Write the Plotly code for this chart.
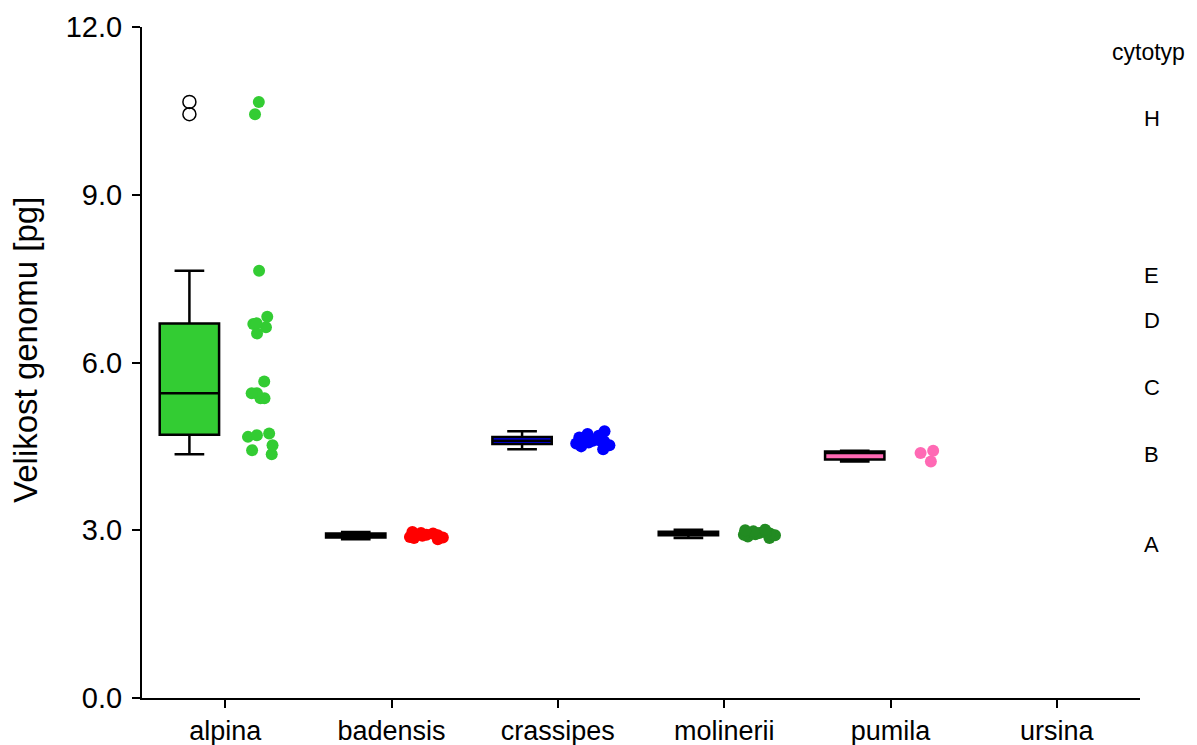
import plotly.graph_objects as go

# ---- data ----
species = ["alpina", "badensis", "crassipes", "molinerii", "pumila", "ursina"]
colors = ["#33CC33", "#FF0000", "#0000FF", "#228B22", "#FF69B4", "#888888"]

alpina = [4.36, 4.43, 4.52, 4.67, 4.70, 4.73, 5.36, 5.36, 5.45, 5.45, 5.66,
          6.52, 6.63, 6.69, 6.70, 6.82, 7.64, 10.44, 10.66]
badensis = [2.84, 2.86, 2.87, 2.88, 2.90, 2.91, 2.92, 2.94, 2.95, 2.97]
crassipes = [4.45, 4.50, 4.52, 4.55, 4.57, 4.59, 4.60, 4.61, 4.63, 4.66, 4.69, 4.72, 4.77]
molinerii = [2.86, 2.89, 2.91, 2.92, 2.93, 2.94, 2.95, 2.96, 2.98, 3.00, 3.01]
pumila = [4.23, 4.38, 4.42]
ursina = []

values = [alpina, badensis, crassipes, molinerii, pumila, ursina]

cytotypes = ["H", "E", "D", "C", "B", "A"]
cytotype_levels = [10.37, 7.56, 6.76, 5.56, 4.36, 2.74]

ytick_vals = [0, 3, 6, 9, 12]

# ---- styling ----
FONT = "Liberation Sans, Arial, sans-serif"
jitter_amount = {"pumila": 0.3}
DEFAULT_JITTER = 0.7

fig = go.Figure()

for name, vals, col in zip(species, values, colors):
    if not vals:
        continue
    # visible box with outliers as open circles
    fig.add_trace(go.Box(
        x=[name] * len(vals), y=vals, name=name,
        offsetgroup="box", alignmentgroup="g",
        fillcolor=col, line=dict(color="black", width=2.5),
        whiskerwidth=0.5, boxpoints="outliers",
        marker=dict(symbol="circle-open", size=13, color="black",
                    line=dict(width=1.5, color="black")),
        showlegend=False,
    ))
    # scatter of all individual values (box hidden)
    fig.add_trace(go.Box(
        x=[name] * len(vals), y=vals, name=name,
        offsetgroup="pts", alignmentgroup="g",
        fillcolor="rgba(0,0,0,0)", line=dict(color="rgba(0,0,0,0)", width=0),
        whiskerwidth=0, boxpoints="all",
        jitter=jitter_amount.get(name, DEFAULT_JITTER), pointpos=0,
        marker=dict(symbol="circle", size=12, color=col, line=dict(width=0)),
        showlegend=False,
    ))

# y-axis title
fig.add_annotation(x=-0.116, y=0.519, xref="paper", yref="paper",
                   text="Velikost genomu [pg]", textangle=-90,
                   xanchor="center", yanchor="middle", showarrow=False,
                   font=dict(family=FONT, size=33, color="black"))

# cytotype labels on the right
fig.add_annotation(x=1.009, y=11.55, xref="paper", yref="y", text="cytotyp",
                   xanchor="center", yanchor="middle",
                   showarrow=False, font=dict(family=FONT, size=23, color="black"))
for lab, lev in zip(cytotypes, cytotype_levels):
    fig.add_annotation(x=1.012, y=lev, xref="paper", yref="y", text=lab,
                       xanchor="center", yanchor="middle",
                       showarrow=False, font=dict(family=FONT, size=22, color="black"))

fig.update_layout(
    width=1197, height=745,
    margin=dict(l=142, r=57, t=27, b=47),
    paper_bgcolor="white", plot_bgcolor="white",
    boxmode="group", boxgap=0.14, boxgroupgap=0.17,
    font=dict(family=FONT, size=26, color="black"),
    showlegend=False,
)
fig.update_xaxes(
    type="category", categoryorder="array", categoryarray=species,
    range=[-0.5, 5.5], showline=True, linecolor="black", linewidth=2,
    ticks="outside", ticklen=8, tickwidth=2, tickcolor="black",
    showgrid=False, zeroline=False, tickfont=dict(size=27), automargin=False,
)
fig.update_yaxes(
    range=[0, 12], tickvals=ytick_vals, tickformat=".1f",
    showline=True, linecolor="black", linewidth=2,
    ticks="outside", ticklen=8, tickwidth=2, tickcolor="black",
    showgrid=False, zeroline=False, tickfont=dict(size=29), automargin=False,
    ticklabelstandoff=4,
)

fig.write_html("out.html", config={"displayModeBar": False},
               post_script="document.body.style.margin='0px';")
